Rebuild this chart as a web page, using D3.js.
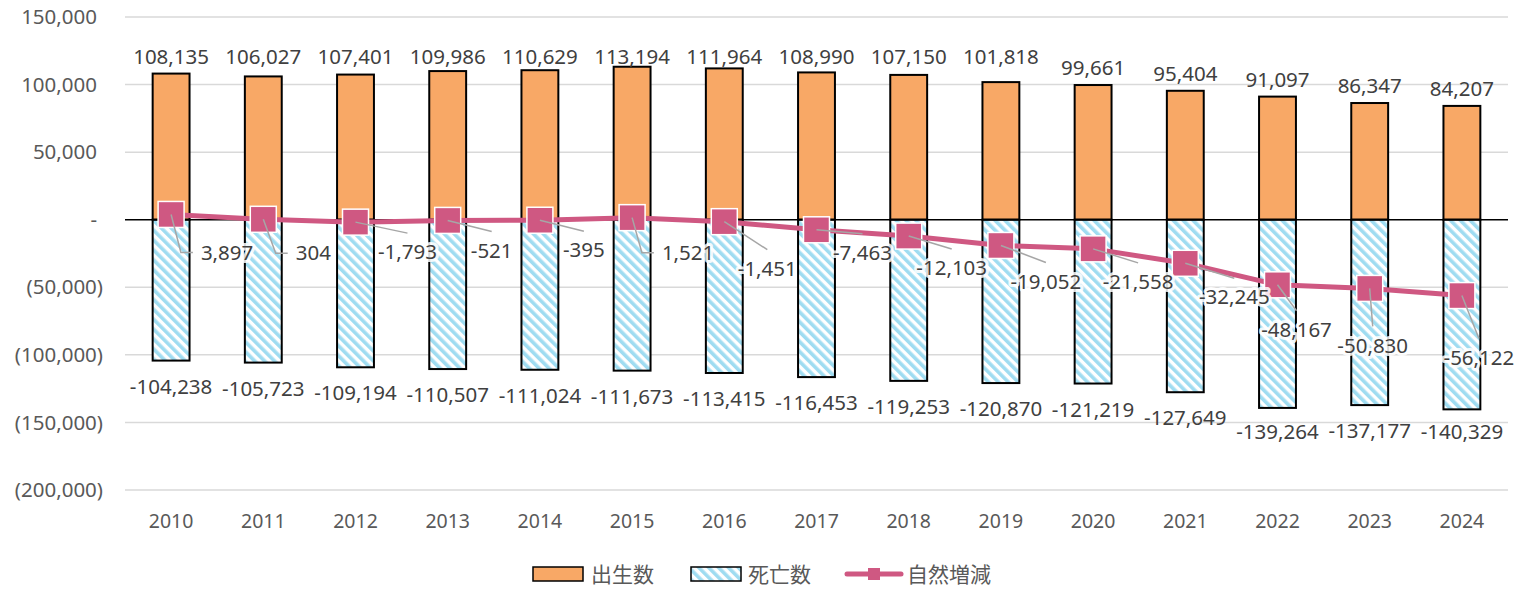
<!DOCTYPE html>
<html>
<head>
<meta charset="utf-8">
<script src="https://cdn.jsdelivr.net/npm/d3@7"></script>
<style>
  body { margin: 0; background: #fff; }
  text { font-family: "Noto Sans", "Noto Sans CJK JP", sans-serif; }
</style>
</head>
<body>
<div id="chart"></div>
<script>
const years = ['2010', '2011', '2012', '2013', '2014', '2015', '2016', '2017', '2018', '2019', '2020', '2021', '2022', '2023', '2024']
const births = [108135, 106027, 107401, 109986, 110629, 113194, 111964, 108990, 107150, 101818, 99661, 95404, 91097, 86347, 84207]
const deaths = [-104238, -105723, -109194, -110507, -111024, -111673, -113415, -116453, -119253, -120870, -121219, -127649, -139264, -137177, -140329]
const natural = [3897, 304, -1793, -521, -395, 1521, -1451, -7463, -12103, -19052, -21558, -32245, -48167, -50830, -56122]
const yTicks = [150000, 100000, 50000, 0, -50000, -100000, -150000, -200000]
const legendNames = ['出生数', '死亡数', '自然増減']
// hand-placed label offsets (px) for the natural increase labels, as in the original
const naturalLabelNudge = [[56, 38], [50, 34], [52, 30], [44, 30], [44, 30], [56, 35], [43, 47], [46, 23],
    [43, 32], [45, 36], [45, 33], [49, 34], [19, 45], [3, 57], [17, 62]]

const width = 1519, height = 590
const orange = '#F8A866', pink = '#CF5882', hatch = '#9FDCF1'

const svg = d3.select('#chart').append('svg').attr('width', width).attr('height', height)

const defs = svg.append('defs')
const pat = defs.append('pattern').attr('id', 'hatch').attr('patternUnits', 'userSpaceOnUse')
    .attr('width', 7).attr('height', 7).attr('patternTransform', 'rotate(-45)')
pat.append('rect').attr('width', 7).attr('height', 7).attr('fill', '#fff')
pat.append('rect').attr('width', 3.6).attr('height', 7).attr('fill', hatch)

const x = d3.scaleBand().domain(years).range([125, 1508]).paddingInner(0.6).paddingOuter(0.3)
const y = d3.scaleLinear().domain([-200000, 150000]).range([490, 17])
const cx = (i) => x(years[i]) + x.bandwidth() / 2

// gridlines
svg.append('g').selectAll('line').data(yTicks.filter(d => d !== 0)).enter().append('line')
    .attr('x1', 125).attr('x2', 1508)
    .attr('y1', d => y(d)).attr('y2', d => y(d))
    .attr('stroke', '#D9D9D9').attr('stroke-width', 1.5)

// y tick labels
const fmt = d3.formatLocale({ decimal: '.', thousands: ',', grouping: [3], currency: ['', ''], minus: '-' }).format(',')
svg.append('g').selectAll('text').data(yTicks).enter().append('text')
    .attr('x', d => d < 0 ? 103 : 97)
    .attr('y', d => y(d))
    .attr('dy', '0.35em')
    .attr('text-anchor', 'end')
    .attr('font-size', 20.5)
    .attr('fill', '#595959')
    .text(d => d === 0 ? '-' : d < 0 ? '(' + fmt(-d) + ')' : fmt(d))

// x labels
svg.append('g').selectAll('text').data(years).enter().append('text')
    .attr('x', d => x(d) + x.bandwidth() / 2)
    .attr('y', 521)
    .attr('dy', '0.35em')
    .attr('text-anchor', 'middle')
    .attr('font-size', 19.5)
    .attr('fill', '#595959')
    .text(d => d)

// bars
svg.append('g').selectAll('rect').data(births).enter().append('rect')
    .attr('x', (d, i) => x(years[i]))
    .attr('width', x.bandwidth())
    .attr('y', d => y(d))
    .attr('height', d => y(0) - y(d))
    .attr('fill', orange).attr('stroke', '#000').attr('stroke-width', 2)

svg.append('g').selectAll('rect').data(deaths).enter().append('rect')
    .attr('x', (d, i) => x(years[i]))
    .attr('width', x.bandwidth())
    .attr('y', y(0))
    .attr('height', d => y(d) - y(0))
    .attr('fill', 'url(#hatch)').attr('stroke', '#000').attr('stroke-width', 2)

// zero line
svg.append('line').attr('x1', 125).attr('x2', 1508).attr('y1', y(0)).attr('y2', y(0))
    .attr('stroke', '#000').attr('stroke-width', 1.5)

// bar labels
svg.append('g').selectAll('text').data(births).enter().append('text')
    .attr('x', (d, i) => cx(i))
    .attr('y', d => { const ly = y(d) - 17; return ly < 66 ? 57 : ly })
    .attr('dy', '0.35em')
    .attr('text-anchor', 'middle')
    .attr('font-size', 20.5)
    .attr('fill', '#404040')
    .text(d => fmt(d))

svg.append('g').selectAll('text').data(deaths).enter().append('text')
    .attr('x', (d, i) => cx(i))
    .attr('y', d => Math.min(y(d) + 26, 432))
    .attr('dy', '0.35em')
    .attr('text-anchor', 'middle')
    .attr('font-size', 20.5)
    .attr('fill', '#404040')
    .text(d => fmt(d))

// natural increase line
const line = d3.line().x((d, i) => cx(i)).y(d => y(d))
svg.append('path').attr('d', line(natural)).attr('fill', 'none')
    .attr('stroke', pink).attr('stroke-width', 5).attr('stroke-linejoin', 'round')

// leader lines + labels
const labelG = svg.append('g')
natural.forEach((v, i) => {
    const mx = cx(i), my = y(v)
    const lx = mx + naturalLabelNudge[i][0], ly = my + naturalLabelNudge[i][1]
    const t = labelG.append('text')
        .attr('x', lx).attr('y', ly).attr('dy', '0.35em')
        .attr('text-anchor', 'middle')
        .attr('font-size', 20.5)
        .attr('fill', '#404040')
        .attr('stroke', 'rgba(255,255,255,0.85)').attr('stroke-width', 6)
        .attr('paint-order', 'stroke').attr('stroke-linejoin', 'round')
        .text(fmt(v))
    const w = t.node().getComputedTextLength()
    const left = lx - w / 2, top = ly - 11
    let pts
    if (left - mx > 25) {
        pts = [[mx, my], [left - 20, ly], [left - 8, ly]]
    } else {
        pts = [[mx, my], [lx, top - 8]]
    }
    const end = pts[pts.length - 1]
    if (Math.abs(end[1] - my) > 20 || Math.abs(end[0] - mx) > 20) {
        labelG.insert('path', 'text').attr('d', d3.line()(pts)).attr('fill', 'none')
            .attr('stroke', '#A6A6A6').attr('stroke-width', 1.5)
    }
})

// markers
svg.append('g').selectAll('rect').data(natural).enter().append('rect')
    .attr('x', (d, i) => cx(i) - 13)
    .attr('y', d => y(d) - 13)
    .attr('width', 26).attr('height', 26)
    .attr('fill', pink).attr('stroke', '#fff').attr('stroke-width', 1.5)

labelG.raise()

// legend
const lg = svg.append('g').attr('font-size', 21).attr('fill', '#595959')
lg.append('rect').attr('x', 533).attr('y', 567).attr('width', 50).attr('height', 14)
    .attr('fill', orange).attr('stroke', '#000').attr('stroke-width', 1.5)
lg.append('text').attr('x', 591).attr('y', 575).attr('dy', '0.35em').text(legendNames[0])
lg.append('rect').attr('x', 691).attr('y', 567).attr('width', 50).attr('height', 14)
    .attr('fill', 'url(#hatch)').attr('stroke', '#000').attr('stroke-width', 1.5)
lg.append('text').attr('x', 748).attr('y', 575).attr('dy', '0.35em').text(legendNames[1])
lg.append('line').attr('x1', 847).attr('x2', 901).attr('y1', 574).attr('y2', 574)
    .attr('stroke', pink).attr('stroke-width', 5).attr('stroke-linecap', 'round')
lg.append('rect').attr('x', 868).attr('y', 568).attr('width', 12).attr('height', 12).attr('fill', pink)
lg.append('text').attr('x', 907).attr('y', 575).attr('dy', '0.35em').text(legendNames[2])
</script>
</body>
</html>
